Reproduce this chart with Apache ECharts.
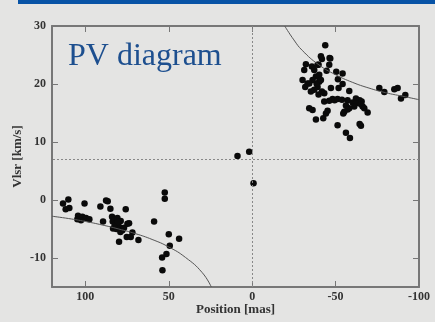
<!DOCTYPE html>
<html>
<head>
<meta charset="utf-8">
<script src="https://cdn.jsdelivr.net/npm/echarts@6/dist/echarts.min.js"></script>
<style>
  html, body { margin: 0; padding: 0; background: #e4e4e3; }
  #chart { width: 435px; height: 322px; }
</style>
</head>
<body>
<div id="chart"></div>
<script>
// maser spots, position [mas] vs Vlsr [km/s]
const blueSpots = [
  [113.4, -0.6], [110.2, 0.1], [111.8, -1.6], [109.6, -1.4], [104.4, -2.7],
  [103.6, -3.2], [101.8, -2.9], [104.8, -3.3], [100.5, -0.6], [99.6, -3.1],
  [97.6, -3.3], [102.6, -3.5], [91.0, -1.1], [87.6, -0.1], [86.6, -0.2],
  [89.4, -3.7], [85.0, -1.5], [84.0, -2.9], [83.6, -3.7], [82.6, -3.3],
  [81.8, -4.1], [80.8, -3.1], [79.8, -4.6], [78.8, -3.6], [77.8, -5.2],
  [75.8, -1.6], [74.8, -4.1], [73.8, -4.0], [75.2, -6.4], [72.8, -6.4],
  [71.8, -5.6], [68.2, -6.9], [79.8, -7.2], [83.4, -4.9], [81.4, -5.0],
  [82.4, -4.4], [80.4, -3.8], [76.8, -4.8], [79.0, -5.5], [58.8, -3.7],
  [52.4, 1.3], [52.4, 0.2], [50.0, -5.9], [49.4, -7.9], [43.8, -6.7],
  [54.0, -9.9], [51.4, -9.3], [53.8, -12.1]
];
const centerSpots = [[8.8, 7.6], [1.8, 8.3], [-0.8, 2.9]];
const redSpots = [
  [-43.8, 26.7], [-41.8, 24.3], [-46.4, 24.5], [-41.2, 24.8], [-32.2, 23.4],
  [-31.2, 22.4], [-35.8, 23.0], [-39.8, 23.3], [-37.2, 22.4], [-40.2, 21.6],
  [-38.2, 21.3], [-36.2, 20.7], [-40.2, 20.4], [-30.2, 20.7], [-33.2, 20.1],
  [-34.2, 20.1], [-37.2, 19.0], [-39.2, 19.5], [-35.2, 18.7], [-31.8, 19.5],
  [-38.6, 20.1], [-41.2, 20.7], [-39.8, 18.2], [-41.8, 18.7], [-44.6, 22.3],
  [-46.2, 23.3], [-50.4, 22.1], [-54.2, 21.8], [-51.4, 20.8], [-54.2, 20.0],
  [-47.2, 19.3], [-51.8, 19.3], [-58.2, 18.8], [-43.2, 18.4], [-48.2, 17.4],
  [-43.2, 17.0], [-46.2, 17.1], [-49.4, 17.2], [-51.2, 17.4], [-53.8, 17.3],
  [-57.2, 17.2], [-62.2, 17.5], [-64.4, 17.2], [-65.6, 17.0], [-56.2, 16.3],
  [-60.2, 16.8], [-62.2, 16.7], [-65.2, 16.5], [-61.2, 16.1], [-66.2, 16.1],
  [-58.2, 15.8], [-57.2, 15.6], [-55.2, 15.2], [-54.6, 14.9], [-67.2, 15.8],
  [-69.2, 15.1], [-34.2, 15.8], [-36.2, 15.5], [-38.2, 13.9], [-42.6, 14.1],
  [-44.2, 14.9], [-45.2, 15.4], [-51.2, 12.9], [-56.2, 11.6], [-58.6, 10.7],
  [-64.4, 13.1], [-65.2, 12.8], [-76.2, 19.3], [-79.2, 18.6], [-85.2, 19.1],
  [-87.2, 19.3], [-89.2, 17.5], [-91.8, 18.1], [-46.8, 24.4], [-39.2, 23.3]
];
// rotation curves
const blueCurve = [
  [120, -2.8], [110, -3.2], [100, -3.7], [90, -4.3], [80, -5.0], [70, -5.8],
  [60, -6.8], [50, -8.1], [40, -9.9], [30, -12.5], [24.5, -15]
];
const redCurve = [
  [-19.5, 30], [-25, 27.6], [-30, 25.8], [-40, 23.3], [-50, 21.6], [-60, 20.3],
  [-70, 19.3], [-80, 18.5], [-90, 17.9], [-100, 17.3]
];
const systemicVel = 7;
const centerPos = 0;
const xTicks = [100, 50, 0, -50, -100];
const yTicks = [-10, 0, 10, 20, 30];

const serif = '"Liberation Serif", "DejaVu Serif", serif';
const axisColor = '#777';
const labelStyle = { fontFamily: serif, fontWeight: 'bold', fontSize: 12, color: '#333' };

function xAxisCfg(pos, showLabel) {
  return {
    type: 'value', position: pos, min: -100, max: 120, inverse: true,
    name: showLabel ? 'Position [mas]' : '', nameLocation: 'middle', nameGap: 16,
    nameMoveOverlap: false,
    nameTextStyle: { fontFamily: serif, fontWeight: 'bold', fontSize: 13, color: '#333' },
    axisLine: { show: true, onZero: false, lineStyle: { color: axisColor, width: 2 } },
    axisTick: { show: true, inside: true, length: 6, customValues: xTicks, lineStyle: { color: axisColor, width: 1 } },
    axisLabel: { show: showLabel, customValues: xTicks, margin: 4, ...labelStyle },
    splitLine: { show: false }
  };
}
function yAxisCfg(pos, showLabel) {
  return {
    type: 'value', position: pos, min: -15, max: 30,
    name: showLabel ? 'Vlsr [km/s]' : '', nameLocation: 'middle', nameGap: 28,
    nameMoveOverlap: false,
    nameTextStyle: { fontFamily: serif, fontWeight: 'bold', fontSize: 13, color: '#333' },
    axisLine: { show: true, onZero: false, lineStyle: { color: axisColor, width: 2 } },
    axisTick: { show: true, inside: true, length: 6, customValues: yTicks, lineStyle: { color: axisColor, width: 1 } },
    axisLabel: { show: showLabel, customValues: yTicks, margin: 6, ...labelStyle },
    splitLine: { show: false }
  };
}

const chart = echarts.init(document.getElementById('chart'));
const dot = { type: 'scatter', symbol: 'circle', symbolSize: 6.5, itemStyle: { color: '#0a0a0a', opacity: 1 }, silent: true };
const curve = { type: 'line', smooth: true, showSymbol: false, lineStyle: { color: '#555', width: 1 }, silent: true };

chart.setOption({
  backgroundColor: '#e4e4e3',
  animation: false,
  title: {
    text: 'PV diagram', left: 68, top: 41, padding: 0,
    textStyle: { fontFamily: serif, fontWeight: 'normal', fontSize: 32, color: '#1d4f8f' }
  },
  graphic: [{ type: 'rect', left: 18, top: 0, shape: { width: 417, height: 4 }, style: { fill: '#0753a6' } }],
  grid: { left: 52, right: 16, top: 26, bottom: 35, outerBoundsMode: 'none' },
  xAxis: [xAxisCfg('bottom', true), xAxisCfg('top', false)],
  yAxis: [yAxisCfg('left', true), yAxisCfg('right', false)],
  series: [
    {
      ...curve, data: blueCurve,
      markLine: {
        silent: true, symbol: 'none', label: { show: false },
        lineStyle: { color: '#888', width: 1, type: [2, 2] },
        data: [{ xAxis: centerPos }, { yAxis: systemicVel }]
      }
    },
    { ...curve, data: redCurve },
    { ...dot, data: blueSpots },
    { ...dot, data: centerSpots },
    { ...dot, data: redSpots }
  ]
});
</script>
</body>
</html>
